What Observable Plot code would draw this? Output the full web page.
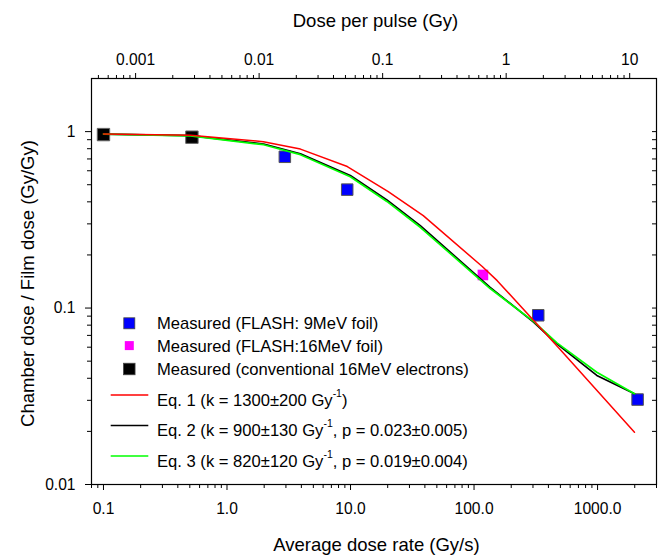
<!DOCTYPE html>
<html><head><meta charset="utf-8">
<script src="https://cdn.jsdelivr.net/npm/d3@7"></script>
<script src="https://cdn.jsdelivr.net/npm/@observablehq/plot@0.6"></script>
<style>
html,body{margin:0;padding:0;background:#fff;}
#chart{position:relative;width:660px;height:555px;}
</style></head><body><div id="chart"></div>
<script>
// ---- measured data (average dose rate Gy/s, chamber/film ratio) ----
const conventionalRate = [0.1, 0.52];
const conventionalRatio = [0.962, 0.93];
const flash9Rate = [2.94, 9.4, 331, 2109];
const flash9Ratio = [0.72, 0.469, 0.091, 0.0303];
const flash16Rate = [118];
const flash16Ratio = [0.154];

// ---- model curves ----
const eq1Rate = [0.1, 0.506, 1.97, 3.93, 9.42, 20.2, 38.8, 116.5, 154, 498, 1990];
const eq1Ratio = [0.968, 0.955, 0.877, 0.796, 0.634, 0.457, 0.334, 0.172, 0.143, 0.0582, 0.0198];
const eq2Rate = [0.1, 0.506, 1.98, 3.93, 9.96, 19.7, 36.7, 135, 303, 469, 986, 1990];
const eq2Ratio = [0.968, 0.949, 0.851, 0.748, 0.564, 0.410, 0.293, 0.131, 0.0832, 0.0627, 0.0415, 0.0327];
const eq3Rate = [0.1, 0.506, 1.98, 3.93, 9.96, 19.7, 36.7, 135, 303, 469, 986, 1990];
const eq3Ratio = [0.968, 0.945, 0.843, 0.740, 0.555, 0.402, 0.287, 0.129, 0.0840, 0.0635, 0.0433, 0.0327];

// ---- axes ----
const pulsesPerGy = 182; // dose rate (Gy/s) per dose per pulse (Gy)
const bottomTicks = [0.1, 1, 10, 100, 1000];
const bottomLabels = ["0.1", "1.0", "10.0", "100.0", "1000.0"];
const topTicks = [0.001, 0.01, 0.1, 1, 10];
const topLabels = ["0.001", "0.01", "0.1", "1", "10"];
const leftTicks = [0.01, 0.1, 1];
const leftLabels = ["0.01", "0.1", "1"];

const xTitle = "Average dose rate (Gy/s)";
const x2Title = "Dose per pulse (Gy)";
const yTitle = "Chamber dose / Film dose (Gy/Gy)";

const legendMeasured = [
  {label: "Measured (FLASH: 9MeV foil)", color: "#0000ff"},
  {label: "Measured (FLASH:16MeV foil)", color: "#ff00ff"},
  {label: "Measured (conventional 16MeV electrons)", color: "#000000"}
];
const legendEq = [
  {pre: "Eq. 1 (k = 1300±200 Gy", post: ")", color: "#ff0000"},
  {pre: "Eq. 2 (k = 900±130 Gy", post: ", p = 0.023±0.005)", color: "#000000"},
  {pre: "Eq. 3 (k = 820±120 Gy", post: ", p = 0.019±0.004)", color: "#00ff00"}
];

function minorTicks(lo, hi) {
  const out = [];
  for (let e = -5; e <= 4; e++) for (let m = 2; m <= 9; m++) {
    const v = m * Math.pow(10, e);
    if (v >= lo * 0.999 && v <= hi * 1.001) out.push(v);
  }
  return out;
}
const xDomain = [0.08, 3000], yDomain = [0.01, 2];
const bottomMinor = minorTicks(xDomain[0], xDomain[1]);
const topMinor = minorTicks(xDomain[0] / pulsesPerGy, xDomain[1] / pulsesPerGy).map(d => d * pulsesPerGy);
const topMajor = topTicks.map(d => d * pulsesPerGy);
const yMinor = minorTicks(yDomain[0], 1);
const rightTicks = [...yMinor, 0.1, 1];

const bMap = new Map(bottomTicks.map((d, i) => [d, bottomLabels[i]]));
const tMap = new Map(topMajor.map((d, i) => [d, topLabels[i]]));
const lMap = new Map(leftTicks.map((d, i) => [d, leftLabels[i]]));

const font = "'Liberation Sans', Arial, sans-serif";

const plot = Plot.plot({
  width: 660, height: 555,
  marginTop: 78, marginRight: 4, marginBottom: 71, marginLeft: 91,
  style: {fontFamily: font, fontSize: "15.6px", color: "#000", background: "#fff", overflow: "visible"},
  x: {type: "log", domain: xDomain},
  y: {type: "log", domain: yDomain},
  marks: [
    Plot.axisX({anchor: "bottom", ticks: bottomMinor, tickSize: 4, tickFormat: () => "", label: null}),
    Plot.axisX({anchor: "bottom", ticks: bottomTicks, tickSize: 6, tickPadding: 12, tickFormat: d => bMap.get(d), label: null}),
    Plot.axisX({anchor: "top", ticks: topMinor, tickSize: 4, tickFormat: () => "", label: null}),
    Plot.axisX({anchor: "top", ticks: topMajor, tickSize: 6, tickPadding: 8, tickFormat: d => tMap.get(d), label: null}),
    Plot.axisY({anchor: "left", ticks: yMinor, tickSize: 4, tickFormat: () => "", label: null}),
    Plot.axisY({anchor: "left", ticks: leftTicks, tickSize: 6, tickPadding: 10, tickFormat: d => lMap.get(d), label: null}),
    Plot.axisY({anchor: "right", ticks: rightTicks, tickSize: -5, tickFormat: () => "", label: null}),
    Plot.frame({stroke: "#000", strokeWidth: 1.2}),
    Plot.text([x2Title], {frameAnchor: "top", text: d => d, lineAnchor: "middle", textAnchor: "middle", dy: -57, dx: 1.5, fontSize: 18.5}),
    Plot.text([xTitle], {frameAnchor: "bottom", text: d => d, lineAnchor: "middle", textAnchor: "middle", dy: 61, dx: 2.5, fontSize: 18.5}),
    Plot.text([yTitle], {frameAnchor: "left", text: d => d, lineAnchor: "middle", textAnchor: "middle", rotate: -90, dx: -63, dy: 2, fontSize: 18.5}),
    Plot.dot(conventionalRate, {x: conventionalRate, y: conventionalRatio, symbol: "square", r: 7.0, fill: "#000", stroke: "#666", strokeWidth: 1}),
    Plot.dot(flash9Rate, {x: flash9Rate, y: flash9Ratio, symbol: "square", r: 6.5, fill: "#0000ff", stroke: "#555", strokeWidth: 1}),
    Plot.dot(flash16Rate, {x: flash16Rate, y: flash16Ratio, symbol: "square", r: 6.0, fill: "#ff00ff"}),
    Plot.line(eq2Rate, {x: eq2Rate, y: eq2Ratio, stroke: "#000", strokeWidth: 1.7}),
    Plot.line(eq3Rate, {x: eq3Rate, y: eq3Ratio, stroke: "#00ff00", strokeWidth: 1.7}),
    Plot.line(eq1Rate, {x: eq1Rate, y: eq1Ratio, stroke: "#ff0000", strokeWidth: 1.5})
  ]
});
document.getElementById("chart").appendChild(plot);

// ---- legend (inside plot area) ----
const svg = d3.select(plot);
const lg = svg.append("g").attr("font-family", font).attr("font-size", "16.6px")
  .attr("fill", "#000").attr("text-anchor", "start");
const mSizes = [11, 9, 11.5];
const mBase = [329, 351.5, 375];
const mCenter = [323.3, 345.6, 369];
legendMeasured.forEach((d, i) => {
  const s = mSizes[i];
  lg.append("rect").attr("x", 129.3 - s / 2).attr("y", mCenter[i] - s / 2).attr("width", s).attr("height", s)
    .attr("fill", d.color).attr("stroke", i === 1 ? "none" : "#444").attr("stroke-width", 0.8);
  lg.append("text").attr("x", 157).attr("y", mBase[i]).attr("text-anchor", "start").text(d.label);
});
const eLine = [395, 425.5, 456];
const eBase = [405.5, 436, 466.5];
legendEq.forEach((d, i) => {
  lg.append("line").attr("x1", 110.7).attr("x2", 148.3).attr("y1", eLine[i]).attr("y2", eLine[i])
    .attr("stroke", d.color).attr("stroke-width", 1.6);
  const t = lg.append("text").attr("x", 157).attr("y", eBase[i]).attr("text-anchor", "start");
  t.append("tspan").text(d.pre);
  t.append("tspan").attr("dy", -9).attr("font-size", "10.5px").text("-1");
  t.append("tspan").attr("dy", 9).text(d.post);
});
</script>
</body></html>
